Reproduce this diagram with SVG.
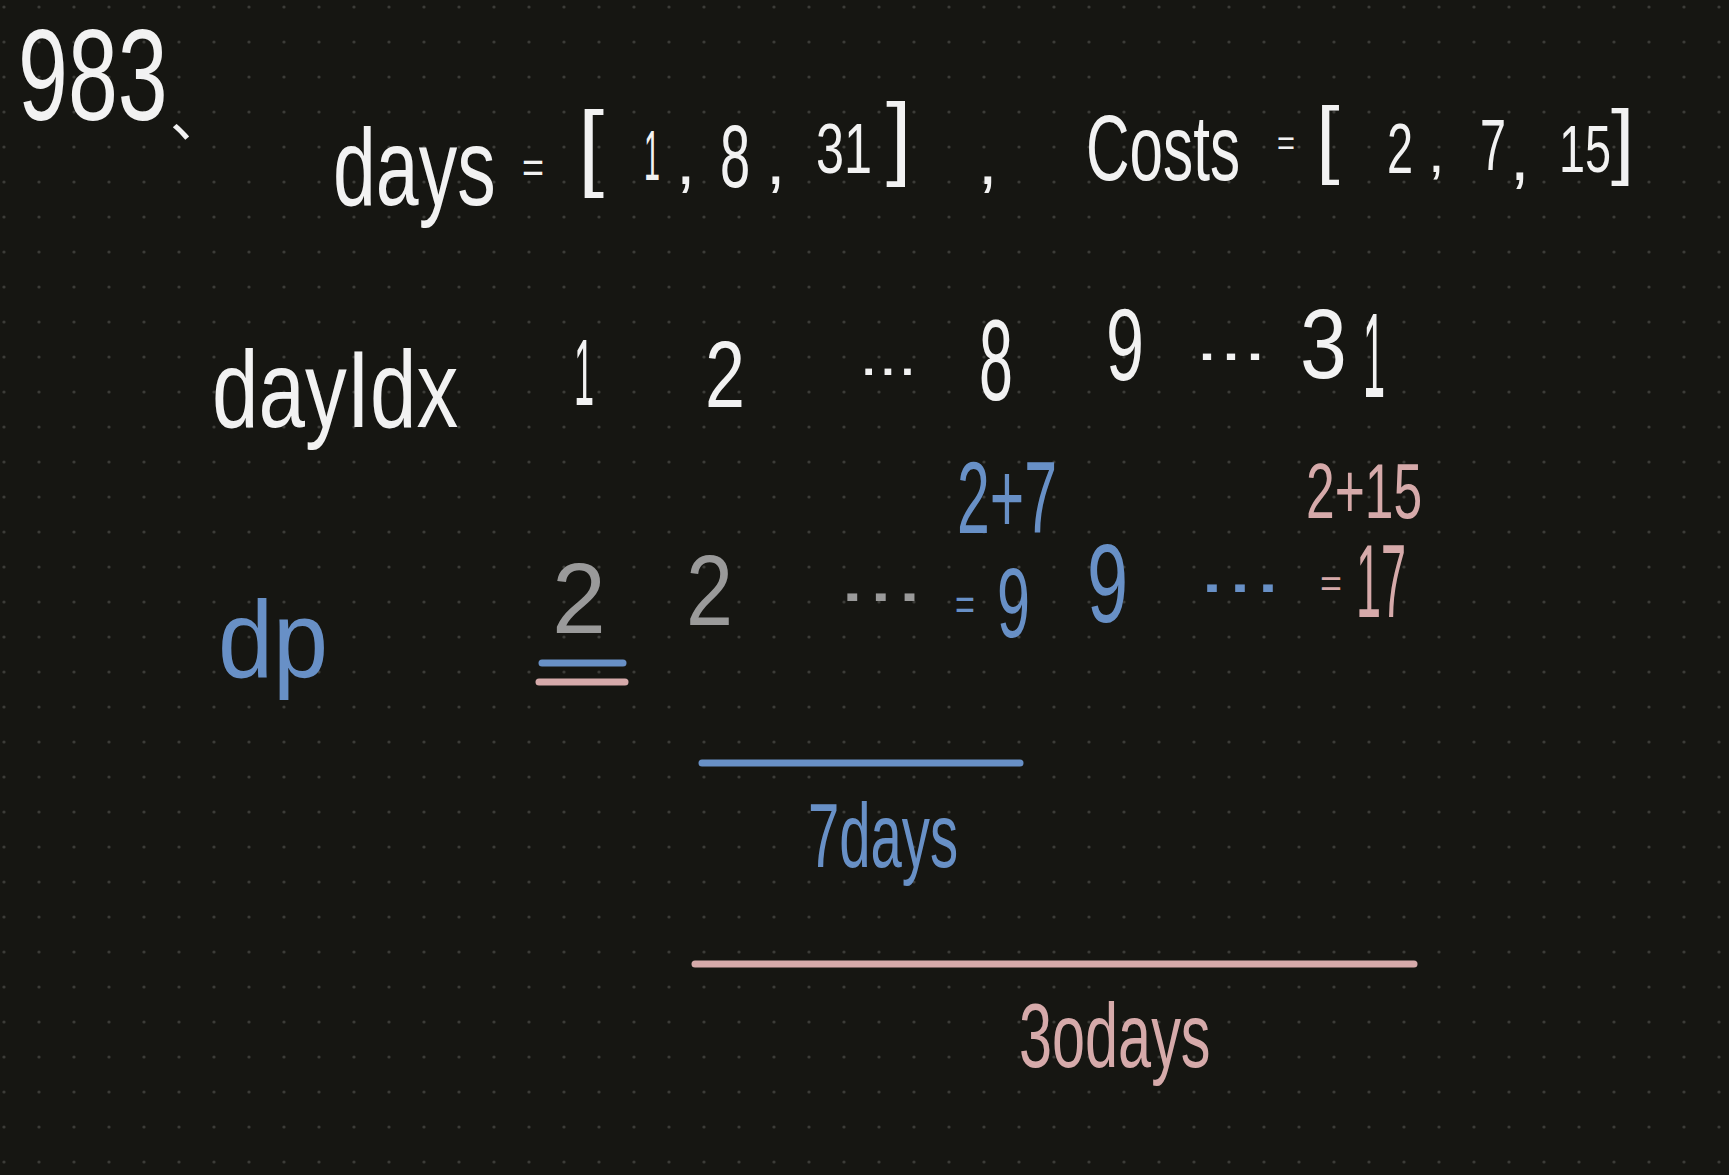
<svg xmlns="http://www.w3.org/2000/svg" width="1729" height="1175" viewBox="0 0 1729 1175">
<defs>
<pattern id="dots" width="35" height="35" patternUnits="userSpaceOnUse">
<circle cx="4" cy="7" r="1.6" fill="#3c3c38"/>
</pattern>
<style>
text{font-family:"Liberation Sans","Noto Sans","Noto Sans CJK SC",sans-serif;}
.w{fill:#f2f2f2;}
.b{fill:#6890c6;}
.p{fill:#d6aaaa;}
.g{fill:#9a9a9a;}
.lb{stroke:#6890c6;stroke-width:7;stroke-linecap:round;fill:none;}
.lp{stroke:#d6aaaa;stroke-width:7;stroke-linecap:round;fill:none;}
</style>
</defs>
<rect width="1729" height="1175" fill="#161612"/>
<rect width="1729" height="1175" fill="url(#dots)"/>

<g id="title">
<text class="w" transform="translate(18,120) scale(0.69,1)" font-size="130">983</text>
<text class="w" x="170" y="136" font-size="56" style="font-family:'Noto Sans CJK SC',sans-serif">、</text>
</g>

<g id="row-input">
<text class="w" transform="translate(333,205) scale(0.70,1)" font-size="110">days</text>
<text class="w" transform="translate(522,183) scale(0.84,1)" font-size="45">=</text>
<text class="w" x="578" y="178" font-size="94">[</text>
<text class="w" transform="translate(644,180) scale(0.41,1)" font-size="70">1</text>
<text class="w" x="676" y="184" font-size="70">,</text>
<text class="w" transform="translate(720,187) scale(0.61,1)" font-size="89">8</text>
<text class="w" x="766" y="184" font-size="70">,</text>
<text class="w" transform="translate(816,173) scale(0.72,1)" font-size="70">31</text>
<text class="w" x="886" y="168" font-size="92">]</text>
<text class="w" x="978" y="184" font-size="70">,</text>
<text class="w" transform="translate(1086,180) scale(0.655,1)" font-size="92">Costs</text>
<text class="w" transform="translate(1277,155) scale(0.88,1)" font-size="35">=</text>
<text class="w" x="1316" y="167" font-size="85">[</text>
<text class="w" transform="translate(1387,173) scale(0.67,1)" font-size="70">2</text>
<text class="w" x="1428" y="172" font-size="60">,</text>
<text class="w" transform="translate(1480,170) scale(0.65,1)" font-size="72">7</text>
<text class="w" x="1510" y="180" font-size="70">,</text>
<text class="w" transform="translate(1559,172) scale(0.71,1)" font-size="66">15</text>
<text class="w" x="1611" y="169" font-size="84">]</text>
</g>

<g id="row-dayIdx">
<text class="w" transform="translate(212,427) scale(0.76,1)" font-size="110">dayIdx</text>
<text class="w" transform="translate(574,405) scale(0.38,1)" font-size="95">1</text>
<text class="w" transform="translate(705,407) scale(0.765,1)" font-size="94">2</text>
<text class="w" transform="translate(859,375) scale(1.16,1)" font-size="60">...</text>
<text class="w" transform="translate(979,400) scale(0.53,1)" font-size="115">8</text>
<text class="w" transform="translate(1106,380) scale(0.67,1)" font-size="102">9</text>
<text class="w" transform="translate(1195,360) scale(1.44,1)" font-size="60">...</text>
<text class="w" transform="translate(1300,378) scale(0.86,1)" font-size="98">3</text>
<text class="w" transform="translate(1363,397) scale(0.33,1)" font-size="120">1</text>
</g>

<g id="row-dp">
<text class="b" transform="translate(218,677) scale(0.90,1)" font-size="110">dp</text>
<text class="g" transform="translate(552,633) scale(0.97,1)" font-size="100">2</text>
<text class="g" transform="translate(686,625) scale(0.845,1)" font-size="100">2</text>
<text class="g" transform="translate(838,601) scale(1.47,1)" font-size="70">...</text>
<text class="b" transform="translate(957,533) scale(0.578,1)" font-size="102">2+7</text>
<text class="b" transform="translate(955,620) scale(0.76,1)" font-size="45">=</text>
<text class="b" transform="translate(997,637) scale(0.605,1)" font-size="98">9</text>
<text class="b" transform="translate(1087,622) scale(0.66,1)" font-size="112">9</text>
<text class="b" transform="translate(1198,592) scale(1.44,1)" font-size="70">...</text>
<text class="p" transform="translate(1306,518) scale(0.67,1)" font-size="77">2+15</text>
<text class="p" transform="translate(1320,597) scale(0.99,1)" font-size="38">=</text>
<text class="p" transform="translate(1356,617) scale(0.437,1)" font-size="103">17</text>
</g>

<g id="connectors">
<line class="lb" x1="542" y1="663" x2="623" y2="663"/>
<line class="lp" x1="539" y1="682" x2="625" y2="682"/>
<line class="lb" x1="702" y1="763" x2="1020" y2="763"/>
<line class="lp" x1="695" y1="964" x2="1414" y2="964"/>
</g>

<g id="labels">
<text class="b" transform="translate(808,867) scale(0.625,1)" font-size="90">7days</text>
<text class="p" transform="translate(1019,1067) scale(0.66,1)" font-size="90">3odays</text>
</g>
</svg>
